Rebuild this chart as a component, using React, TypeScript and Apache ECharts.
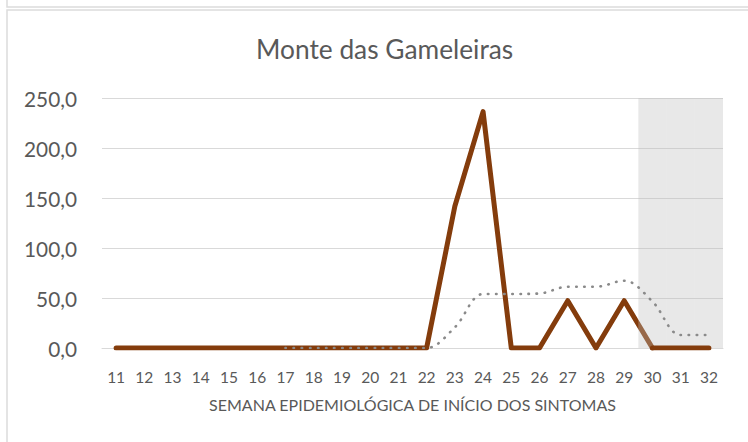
import React, { useEffect, useRef } from "react";
import * as echarts from "echarts";

const weeks = ["11", "12", "13", "14", "15", "16", "17", "18", "19", "20", "21", "22", "23", "24", "25", "26", "27", "28", "29", "30", "31", "32"];
const incidence = [0, 0, 0, 0, 0, 0, 0, 0, 0, 0, 0, 0, 141.8, 236.4, 0, 0, 47.3, 0, 47.3, 0, 0, 0];
const expected = [null, null, null, null, null, null, 0, 0, 0, 0, 0, 0, 20.7, 54.0, 54.0, 54.5, 61.3, 61.3, 67.3, 46.5, 13.0, 13.0];
const incompleteWeeks = ["30", "31", "32"];
const yTicks = { min: 0, max: 250, interval: 50 };

const FONT = "Lato, 'Open Sans', sans-serif";
const TEXT = "#595959";
const GRID = "#d9d9d9";
const BROWN = "#843C0C";

export default function App() {
  const ref = useRef<HTMLDivElement>(null);
  useEffect(() => {
    if (!ref.current) return;
    const chart = echarts.init(ref.current, null, { renderer: "svg" });
    const firstIncomplete = weeks.indexOf(incompleteWeeks[0]);
    const mainPart = incidence.map((v, i) => (i <= firstIncomplete ? v : null));
    const tailPart = incidence.map((v, i) => (i >= firstIncomplete ? v : null));
    const shade = weeks.map((w) => (incompleteWeeks.includes(w) ? yTicks.max : null));
    chart.setOption({
      animation: false,
      backgroundColor: "#ffffff",
      textStyle: { fontFamily: FONT },
      title: {
        text: "Monte das Gameleiras",
        left: 251,
        top: 31,
        textStyle: { fontFamily: FONT, fontSize: 26.3, fontWeight: "normal", color: TEXT },
      },
      graphic: [
        { type: "rect", z: 0, shape: { x: 7, y: -20, width: 800, height: 27 }, style: { fill: "none", stroke: "#dcdcdc", lineWidth: 1.5 } },
        { type: "rect", z: 0, shape: { x: 7, y: 10, width: 800, height: 500 }, style: { fill: "none", stroke: "#dcdcdc", lineWidth: 1.5 } },
      ],
      grid: { left: 102, right: 25, top: 98, bottom: 94, containLabel: false },
      xAxis: {
        type: "category",
        data: weeks,
        boundaryGap: true,
        name: "SEMANA EPIDEMIOLÓGICA DE INÍCIO DOS SINTOMAS",
        nameLocation: "middle",
        nameGap: 48,
        nameTextStyle: { fontFamily: FONT, fontSize: 16, color: TEXT },
        axisLine: { show: true, lineStyle: { color: GRID, width: 1 } },
        axisTick: { show: false },
        axisLabel: { fontFamily: FONT, fontSize: 15.5, color: TEXT, margin: 21, interval: 0 },
        splitLine: { show: false },
      },
      yAxis: {
        type: "value",
        min: yTicks.min,
        max: yTicks.max,
        interval: yTicks.interval,
        axisLine: { show: false },
        axisTick: { show: false },
        axisLabel: {
          fontFamily: FONT,
          fontSize: 20.8,
          color: TEXT,
          margin: 25,
          formatter: (v: number) => v.toFixed(1).replace(".", ","),
        },
        splitLine: { show: true, lineStyle: { color: GRID, width: 1 } },
      },
      series: [
        {
          type: "line",
          data: mainPart,
          z: 2,
          symbol: "none",
          lineStyle: { color: BROWN, width: 5, join: "round", cap: "round" },
        },
        {
          type: "bar",
          data: shade,
          z: 3,
          barWidth: "100%",
          itemStyle: { color: "rgba(190,190,190,0.35)" },
          silent: true,
        },
        {
          type: "line",
          data: tailPart,
          z: 4,
          symbol: "none",
          lineStyle: { color: BROWN, width: 5, join: "round", cap: "round" },
        },
        {
          type: "line",
          data: expected,
          z: 5,
          symbol: "none",
          smooth: 0.35,
          lineStyle: { color: "#8a8a8a", width: 2.6, type: [0.5, 7.6], cap: "round" },
        },
      ],
    });
    return () => chart.dispose();
  }, []);
  return <div ref={ref} style={{ position: "fixed", left: 0, top: 0, width: 748, height: 442 }} />;
}
